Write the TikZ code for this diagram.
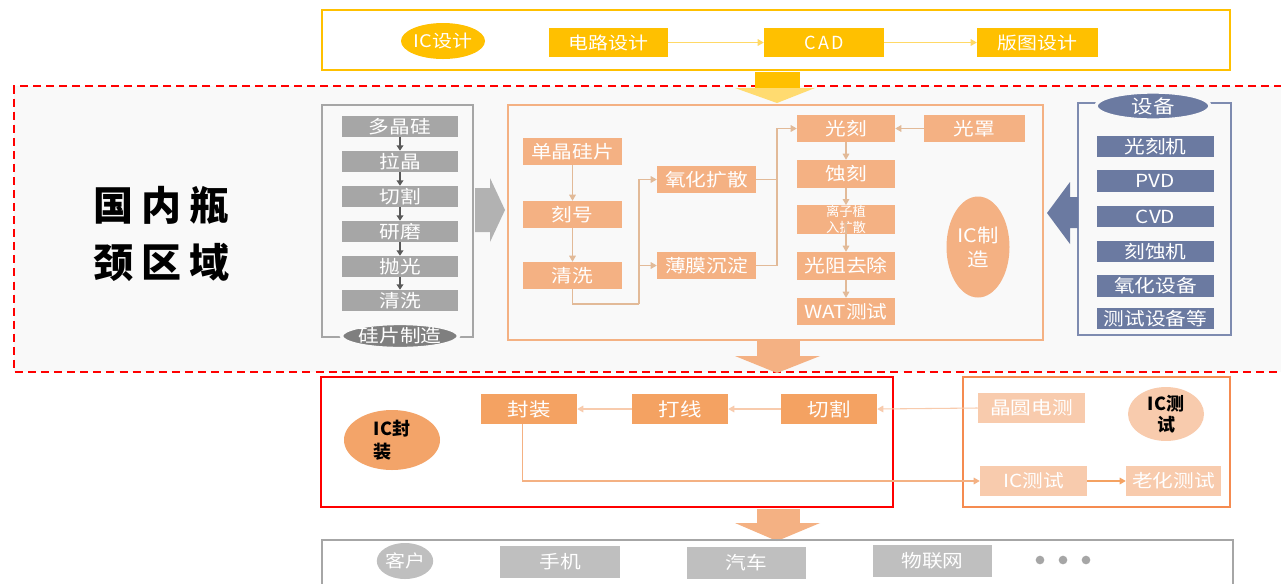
\documentclass[tikz,border=0pt]{standalone}
\usepackage{fontspec}
\setmainfont{Noto Sans CJK SC}
\newfontfamily\boxfont[FakeStretch=1.15]{Noto Sans CJK SC}
\newfontfamily\widefont[LetterSpace=12]{Noto Sans CJK SC}
\usetikzlibrary{arrows.meta,shapes.geometric}
\definecolor{cYel}{HTML}{FFC000}
\definecolor{cYelL}{HTML}{FFD966}
\definecolor{cYelH}{HTML}{FFDB70}
\definecolor{cBg}{HTML}{F9F9F9}
\definecolor{cGrayBox}{HTML}{A6A6A6}
\definecolor{cGrayArr}{HTML}{595959}
\definecolor{cGrayEll}{HTML}{7F7F7F}
\definecolor{cGrayBig}{HTML}{B2B2B2}
\definecolor{cSal}{HTML}{F4B183}
\definecolor{cTan}{HTML}{E2BA98}
\definecolor{cBlue}{HTML}{6B7AA1}
\definecolor{cBlueL}{HTML}{7E8BB0}
\definecolor{cOr}{HTML}{F4A262}
\definecolor{cOrEll}{HTML}{F3A469}
\definecolor{cPeach}{HTML}{F8CBAD}
\definecolor{cOrB}{HTML}{F58B50}
\definecolor{cCust}{HTML}{BFBFBF}
\newcommand\mybox[7]{\node[#6, minimum width={(#4-#2)*0.75pt}, minimum height={(#5-#3)*0.75pt}] (#1) at ({(#2+#4)/2},{(#3+#5)/2}) {#7};}
\newcommand\myell[7]{\node[ellipse, inner sep=0pt, minimum width={#4*0.75pt}, minimum height={#5*0.75pt}, #6] (#1) at (#2,#3) {#7};}
\tikzset{
  bx/.style={rectangle, inner sep=0pt, text=white, font=\boxfont\fontsize{13}{13}\selectfont},
  ybx/.style={bx, fill=cYel},
  gbx/.style={bx, fill=cGrayBox, font=\boxfont\fontsize{13.5}{13.5}\selectfont},
  sbx/.style={bx, fill=cSal, font=\boxfont\fontsize{13.5}{14}\selectfont},
  bbx/.style={bx, fill=cBlue, font=\boxfont\fontsize{13.5}{13.5}\selectfont},
  obx/.style={bx, fill=cOr, font=\boxfont\fontsize{14}{14}\selectfont},
  pbx/.style={bx, fill=cPeach, font=\boxfont\fontsize{13.5}{14}\selectfont},
  cbx/.style={bx, fill=cCust, font=\boxfont\fontsize{13.5}{14}\selectfont},
  frame/.style={line width=1.2pt},
  conn/.style={line width=0.8pt},
  tip/.style={-{Triangle[length=4.5pt,width=5pt]}},
}
\begin{document}
\begin{tikzpicture}[x=0.75pt,y=-0.75pt]
\useasboundingbox (0,0) rectangle (1281,583);
\clip (0,0) rectangle (1281,583);
\fill[white] (0,0) rectangle (1281,583);

% ---------- bottleneck region ----------
\fill[cBg] (14,86) rectangle (1295,372);
\draw[red, line width=1.5pt, dash pattern=on 6pt off 3.8pt] (1295,86) -- (14,86) -- (14,372) -- (1295,372);
\node[font=\bfseries\fontsize{30}{43}\selectfont, align=center, text=black, inner sep=0pt] (bneck) at (161,234)
  {国\kern6pt 内\kern6pt 瓶\\颈\kern6pt 区\kern6pt 域};

% ---------- IC design ----------
\draw[cYel, line width=1.5pt] (322,10) rectangle (1230,70);
\myell{icd}{443}{41}{84}{36}{fill=cYel, text=white, font=\boxfont\fontsize{13}{13}\selectfont}{IC设计}
\mybox{dl}{549}{28}{668}{57}{ybx}{电路设计}
\mybox{cad}{764}{28}{884}{57}{ybx, font=\widefont\fontsize{13.5}{13.5}\selectfont}{CAD}
\mybox{bt}{977}{28}{1098}{57}{ybx}{版图设计}
\draw[cYelL, conn, tip] (dl.east) -- (cad.west);
\draw[cYelL, conn, tip] (cad.east) -- (bt.west);
\fill[cYel] (755,72) rectangle (800,88);
\fill[cYelH] (735,88) -- (815,88) -- (777,103) -- cycle;

% ---------- wafer manufacturing ----------
\draw[cGrayBox, frame] (322,105) rectangle (473,337);
\mybox{w1}{342}{116}{458}{137}{gbx}{多晶硅}
\mybox{w2}{342}{151}{458}{172}{gbx}{拉晶}
\mybox{w3}{342}{186}{458}{207}{gbx}{切割}
\mybox{w4}{342}{221}{458}{242}{gbx}{研磨}
\mybox{w5}{342}{256}{458}{277}{gbx}{抛光}
\mybox{w6}{342}{290}{458}{311}{gbx}{清洗}
\foreach \a/\b in {w1/w2,w2/w3,w3/w4,w4/w5,w5/w6}
  \draw[cGrayArr, line width=1pt, -{Triangle[length=4pt,width=5pt]}] (\a.south) -- (\b.north);
\myell{wafer}{400}{336}{114}{25}{fill=cGrayEll, draw=cBg, line width=2.5pt, text=white, font=\boxfont\fontsize{13.5}{13.5}\selectfont}{硅片制造}
\fill[cGrayBig] (475,188) -- (490,188) -- (490,178) -- (505,210) -- (490,242) -- (490,232) -- (475,232) -- cycle;

% ---------- IC manufacturing ----------
\draw[cSal, frame] (508,105) rectangle (1043,340);
\mybox{sj}{523}{138}{622}{165}{sbx}{单晶硅片}
\mybox{kh}{523}{201}{622}{228}{sbx}{刻号}
\mybox{qx}{523}{262}{622}{289}{sbx}{清洗}
\mybox{yh}{657}{166}{756}{193}{sbx}{氧化扩散}
\mybox{bm}{657}{252}{756}{279}{sbx}{薄膜沉淀}
\mybox{gk}{797}{115}{895}{142}{sbx}{光刻}
\mybox{gz}{924}{115}{1025}{142}{sbx}{光罩}
\mybox{sk}{797}{160}{895}{188}{sbx}{蚀刻}
\mybox{lz}{797}{206}{895}{233}{sbx, font=\fontsize{10}{12}\selectfont, align=center}{离子植\\入扩散}
\mybox{gzq}{797}{252}{895}{280}{sbx}{光阻去除}
\mybox{wat}{797}{298}{895}{325}{sbx}{WAT测试}
\myell{icm}{978}{247}{63}{101}{fill=cSal, text=white, align=center, font=\boxfont\fontsize{14}{18}\selectfont}{IC制\\造}
\coordinate (j1) at (639,304);
\coordinate (j2) at (777,265.5);
\draw[cTan, conn, tip] (sj.south) -- (kh.north);
\draw[cTan, conn, tip] (kh.south) -- (qx.north);
\draw[cTan, conn] (qx.south) |- (j1);
\draw[cTan, conn, tip] (j1) |- (yh.west);
\draw[cTan, conn, tip] (j1) |- (bm.west);
\draw[cTan, conn] (yh.east) -| (j2);
\draw[cTan, conn] (bm.east) -- (j2);
\draw[cTan, conn, tip] (j2) |- (gk.west);
\draw[cTan, conn, tip] (gz.west) -- (gk.east);
\draw[cTan, conn, tip] (gk.south) -- (sk.north);
\draw[cTan, conn, tip] (sk.south) -- (lz.north);
\draw[cTan, conn, tip] ([yshift=-2pt]lz.center) -- (gzq.north);
\draw[cTan, conn, tip] (gzq.south) -- (wat.north);

% ---------- equipment ----------
\draw[cBlueL, frame] (1078,103) rectangle (1231,335);
\myell{eq}{1153}{106}{114}{28}{fill=cBlue, draw=cBg, line width=2.5pt, text=white, font=\boxfont\fontsize{14}{14}\selectfont}{设备}
\mybox{e1}{1097}{136}{1214}{157}{bbx}{光刻机}
\mybox{e2}{1097}{170}{1214}{192}{bbx}{PVD}
\mybox{e3}{1097}{206}{1214}{227}{bbx}{CVD}
\mybox{e4}{1097}{241}{1214}{262}{bbx}{刻蚀机}
\mybox{e5}{1097}{275}{1214}{297}{bbx}{氧化设备}
\mybox{e6}{1097}{308}{1214}{329}{bbx}{测试设备等}
\fill[cBlue] (1078,197) -- (1070,197) -- (1070,182) -- (1047,213) -- (1070,244) -- (1070,228) -- (1078,228) -- cycle;

% ---------- arrow down to packaging ----------
\fill[cSal] (757,341) rectangle (800,356);
\fill[cSal] (735,356) -- (820,356) -- (777,373) -- cycle;

% ---------- IC packaging ----------
\draw[red, frame] (321,377) rectangle (893,507);
\myell{icp}{392}{440}{96}{60}{fill=cOrEll, text=black, align=left, font=\bfseries\fontsize{13.5}{17}\selectfont}{IC封\\装}
\mybox{fz}{481}{394}{577}{424}{obx}{封装}
\mybox{dx}{632}{394}{728}{424}{obx}{打线}
\mybox{qg}{781}{394}{877}{424}{obx}{切割}

% ---------- IC test ----------
\draw[cOrB, frame] (963,377) rectangle (1230,507);
\mybox{jy}{978}{393}{1085}{423}{pbx}{晶圆电测}
\myell{ict}{1166}{414}{76}{52}{fill=cPeach, text=black, align=center, font=\bfseries\fontsize{13.5}{16}\selectfont}{IC测\\试}
\mybox{ics}{980}{466}{1087}{496}{pbx}{IC测试}
\mybox{lh}{1126}{466}{1221}{496}{pbx}{老化测试}

\draw[cPeach, conn, tip] (jy.west) -- (qg.east);
\draw[cPeach, conn, tip] (qg.west) -- (dx.east);
\draw[cPeach, conn, tip] (dx.west) -- (fz.east);
\draw[cSal, conn, tip] ([xshift=-5pt]fz.south) |- (ics.west);
\draw[cOr, conn, tip] (ics.east) -- (lh.west);

% ---------- arrow down to customers ----------
\fill[cSal] (757,509) rectangle (800,523);
\fill[cSal] (735,523) -- (820,523) -- (777,541) -- cycle;

% ---------- customers ----------
\draw[cGrayBox, frame] (322,540) rectangle (1233,600);
\myell{kh2}{405}{561}{54}{36}{fill=cCust, text=white, font=\boxfont\fontsize{13}{13}\selectfont}{客户}
\mybox{sj2}{500}{546}{620}{578}{cbx}{手机}
\mybox{qc}{687}{547}{806}{579}{cbx}{汽车}
\mybox{wl}{873}{545}{992}{577}{cbx}{物联网}
\foreach \xx [count=\i] in {1040,1063,1086}
  \node[circle, fill=cGrayBox, inner sep=0pt, minimum size=6.5pt] (dot\i) at (\xx,560) {};
\end{tikzpicture}
\end{document}
